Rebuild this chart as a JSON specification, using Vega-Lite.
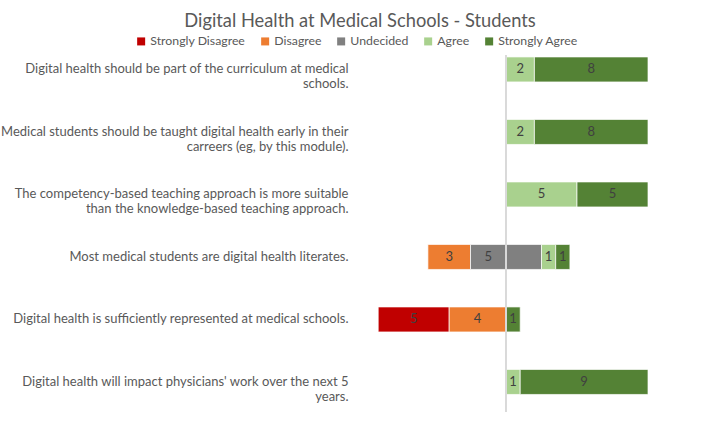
{
  "$schema": "https://vega.github.io/schema/vega-lite/v6.json",
  "autosize": {"type": "none"},
  "padding": {"left": 364, "top": 55, "right": 72, "bottom": 17},
  "width": 284,
  "height": 357,
  "background": "white",
  "title": {
    "text": "Digital Health at Medical Schools - Students",
    "font": "Lato",
    "fontSize": 18.3,
    "fontWeight": "normal",
    "color": "#595959",
    "anchor": "middle",
    "dx": -146,
    "offset": 4
  },
  "config": {
    "view": {"stroke": null},
    "font": "Lato"
  },
  "data": {
    "values": [
      {"question": "Digital health should be part of the curriculum at medical\nschools.", "response": "Agree", "value": 2, "rank": 2, "label": "2"},
      {"question": "Digital health should be part of the curriculum at medical\nschools.", "response": "Strongly Agree", "value": 8, "rank": 3, "label": "8"},
      {"question": "Medical students should be taught digital health early in their\ncarreers (eg, by this module).", "response": "Agree", "value": 2, "rank": 2, "label": "2"},
      {"question": "Medical students should be taught digital health early in their\ncarreers (eg, by this module).", "response": "Strongly Agree", "value": 8, "rank": 3, "label": "8"},
      {"question": "The competency-based teaching approach is more suitable\nthan the knowledge-based teaching approach.", "response": "Agree", "value": 5, "rank": 2, "label": "5"},
      {"question": "The competency-based teaching approach is more suitable\nthan the knowledge-based teaching approach.", "response": "Strongly Agree", "value": 5, "rank": 3, "label": "5"},
      {"question": "Most medical students are digital health literates.", "response": "Disagree", "value": -3, "rank": 2, "label": "3"},
      {"question": "Most medical students are digital health literates.", "response": "Undecided", "value": -2.5, "rank": 1, "label": "5"},
      {"question": "Most medical students are digital health literates.", "response": "Undecided", "value": 2.5, "rank": 1, "label": ""},
      {"question": "Most medical students are digital health literates.", "response": "Agree", "value": 1, "rank": 2, "label": "1"},
      {"question": "Most medical students are digital health literates.", "response": "Strongly Agree", "value": 1, "rank": 3, "label": "1"},
      {"question": "Digital health is sufficiently represented at medical schools.", "response": "Strongly Disagree", "value": -5, "rank": 3, "label": "5"},
      {"question": "Digital health is sufficiently represented at medical schools.", "response": "Disagree", "value": -4, "rank": 2, "label": "4"},
      {"question": "Digital health is sufficiently represented at medical schools.", "response": "Strongly Agree", "value": 1, "rank": 3, "label": "1"},
      {"question": "Digital health will impact physicians' work over the next 5\nyears.", "response": "Agree", "value": 1, "rank": 2, "label": "1"},
      {"question": "Digital health will impact physicians' work over the next 5\nyears.", "response": "Strongly Agree", "value": 9, "rank": 3, "label": "9"}
    ]
  },
  "encoding": {
    "y": {
      "field": "question",
      "type": "nominal",
      "sort": null,
      "title": null,
      "scale": {"paddingInner": 0.6, "paddingOuter": 0.156, "align": 0.1},
      "axis": {
        "labelExpr": "split(datum.label, '\\n')",
        "labelFont": "Lato",
        "labelFontSize": 13,
        "labelColor": "#595959",
        "labelLineHeight": 15,
        "labelLimit": 400,
        "labelPadding": 16,
        "ticks": false,
        "domain": false,
        "grid": false
      }
    },
    "x": {
      "field": "value",
      "type": "quantitative",
      "stack": "zero",
      "title": null,
      "scale": {"domain": [-10, 10], "nice": false, "zero": false},
      "axis": null
    },
    "order": {"field": "rank", "type": "quantitative"}
  },
  "layer": [
    {
      "mark": {"type": "bar", "stroke": "white", "strokeWidth": 0.7},
      "encoding": {
        "color": {
          "field": "response",
          "type": "nominal",
          "scale": {
            "domain": ["Strongly Disagree", "Disagree", "Undecided", "Agree", "Strongly Agree"],
            "range": ["#C00000", "#ED7D31", "#808080", "#A9D18E", "#548235"]
          },
          "legend": {
            "orient": "none",
            "direction": "horizontal",
            "legendX": -229,
            "legendY": -20,
            "title": null,
            "symbolType": "square",
            "symbolSize": 64,
            "symbolStrokeWidth": 0,
            "labelFont": "Lato",
            "labelFontSize": 12.3,
            "labelColor": "#595959",
            "labelOffset": 3,
            "columnPadding": 13
          }
        }
      }
    },
    {
      "mark": {"type": "text", "font": "Lato", "fontSize": 13, "color": "#404040"},
      "encoding": {
        "x": {"field": "value", "type": "quantitative", "stack": "zero", "bandPosition": 0.5},
        "text": {"field": "label", "type": "nominal"}
      }
    },
    {
      "mark": {"type": "rule", "color": "#D9D9D9", "strokeWidth": 1},
      "encoding": {"x": {"datum": 0}, "y": null}
    }
  ]
}
